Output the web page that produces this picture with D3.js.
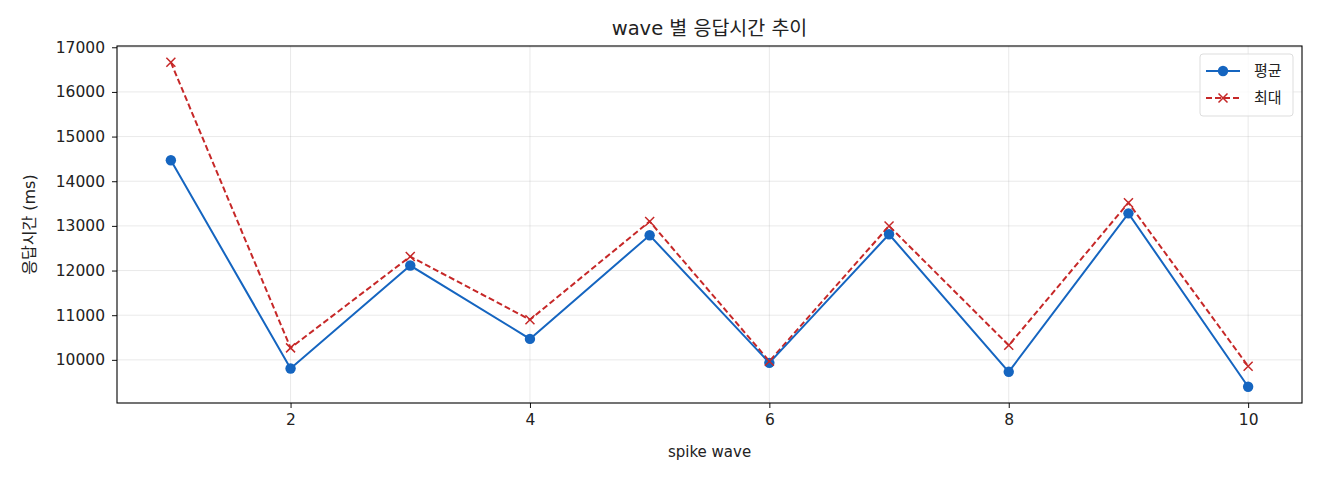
<!DOCTYPE html>
<html>
<head>
<meta charset="utf-8">
<script src="https://cdn.jsdelivr.net/npm/d3@7"></script>
<style>
body { margin: 0; background: #fff; }
text { font-family: "DejaVu Sans", "Noto Sans CJK KR", sans-serif; fill: #222; }
</style>
</head>
<body>
<svg width="1320" height="480"></svg>
<script>
const waves = [1, 2, 3, 4, 5, 6, 7, 8, 9, 10];
const avgValues = [14470, 9806, 12112, 10469, 12790, 9933, 12812, 9732, 13281, 9397];
const maxValues = [16665, 10268, 12313, 10900, 13099, 9969, 12998, 10326, 13518, 9857];
const xTicks = [2, 4, 6, 8, 10];
const yTicks = [10000, 11000, 12000, 13000, 14000, 15000, 16000, 17000];

const svg = d3.select("svg");
const margin = { left: 117, right: 18, top: 46, bottom: 77 };
const width = 1320, height = 480;

// matplotlib style 5% margins
const xMin = d3.min(waves), xMax = d3.max(waves);
const xPad = (xMax - xMin) * 0.05;
const allY = avgValues.concat(maxValues);
const yMin = d3.min(allY), yMax = d3.max(allY);
const yPad = (yMax - yMin) * 0.05;

const x = d3.scaleLinear()
    .domain([xMin - xPad, xMax + xPad])
    .range([margin.left, width - margin.right]);
const y = d3.scaleLinear()
    .domain([yMin - yPad, yMax + yPad])
    .range([height - margin.bottom, margin.top]);

// grid
const grid = svg.append("g").attr("stroke", "#b0b0b0").attr("stroke-opacity", 0.35).attr("stroke-width", 0.8);
xTicks.forEach(t => {
    grid.append("line").attr("x1", x(t)).attr("x2", x(t))
        .attr("y1", margin.top).attr("y2", height - margin.bottom);
});
yTicks.forEach(t => {
    grid.append("line").attr("y1", y(t)).attr("y2", y(t))
        .attr("x1", margin.left).attr("x2", width - margin.right);
});

// axes
const xAxis = svg.append("g")
    .attr("transform", `translate(0,${height - margin.bottom})`)
    .call(d3.axisBottom(x).tickValues(xTicks).tickSize(5).tickPadding(6));
const yAxis = svg.append("g")
    .attr("transform", `translate(${margin.left},0)`)
    .call(d3.axisLeft(y).tickValues(yTicks).tickSize(5).tickPadding(7).tickFormat(d3.format("d")));
[xAxis, yAxis].forEach(a => {
    a.select(".domain").remove();
    a.selectAll("text").style("font-family", "DejaVu Sans").style("font-size", "15.5px").attr("fill", "#222");
    a.selectAll("line").attr("stroke", "#111");
});

// frame
svg.append("rect")
    .attr("x", margin.left).attr("y", margin.top)
    .attr("width", width - margin.left - margin.right)
    .attr("height", height - margin.top - margin.bottom)
    .attr("fill", "none").attr("stroke", "#000").attr("stroke-width", 1.1);

const blue = "#1565c0", red = "#c62828";

const line = d3.line().x((d, i) => x(waves[i])).y(d => y(d));

svg.append("path").datum(maxValues)
    .attr("d", line).attr("fill", "none")
    .attr("stroke", red).attr("stroke-width", 2).attr("stroke-dasharray", "6,3");

svg.append("path").datum(avgValues)
    .attr("d", line).attr("fill", "none")
    .attr("stroke", blue).attr("stroke-width", 2);

svg.append("g").selectAll("circle").data(avgValues).enter().append("circle")
    .attr("cx", (d, i) => x(waves[i])).attr("cy", d => y(d))
    .attr("r", 5.2).attr("fill", blue);

function cross(g, cx, cy, s) {
    g.append("path")
        .attr("d", `M${cx - s},${cy - s}L${cx + s},${cy + s}M${cx - s},${cy + s}L${cx + s},${cy - s}`)
        .attr("stroke", red).attr("stroke-width", 1.5).attr("fill", "none");
}
const crosses = svg.append("g");
maxValues.forEach((d, i) => cross(crosses, x(waves[i]), y(d), 4.5));

// title and labels
svg.append("text").attr("x", (margin.left + width - margin.right) / 2).attr("y", 35)
    .attr("text-anchor", "middle").style("font-size", "19.5px").text("wave 별 응답시간 추이");
svg.append("text").attr("x", (margin.left + width - margin.right) / 2).attr("y", 457)
    .attr("text-anchor", "middle").style("font-size", "15px").text("spike wave");
svg.append("text")
    .attr("transform", `translate(35,${(margin.top + height - margin.bottom) / 2}) rotate(-90)`)
    .attr("text-anchor", "middle").style("font-size", "16px").text("응답시간 (ms)");

// legend
const lg = svg.append("g").attr("transform", "translate(1200,54)");
lg.append("rect").attr("width", 93).attr("height", 62).attr("rx", 3)
    .attr("fill", "#fff").attr("fill-opacity", 0.8).attr("stroke", "#ddd");
lg.append("line").attr("x1", 6).attr("x2", 40).attr("y1", 17).attr("y2", 17)
    .attr("stroke", blue).attr("stroke-width", 2);
lg.append("circle").attr("cx", 23).attr("cy", 17).attr("r", 5.2).attr("fill", blue);
lg.append("text").attr("x", 54).attr("y", 22).style("font-size", "15px").text("평균");
lg.append("line").attr("x1", 6).attr("x2", 40).attr("y1", 44).attr("y2", 44)
    .attr("stroke", red).attr("stroke-width", 2).attr("stroke-dasharray", "6,3");
cross(lg, 23, 44, 4.5);
lg.append("text").attr("x", 54).attr("y", 49).style("font-size", "15px").text("최대");
</script>
</body>
</html>
